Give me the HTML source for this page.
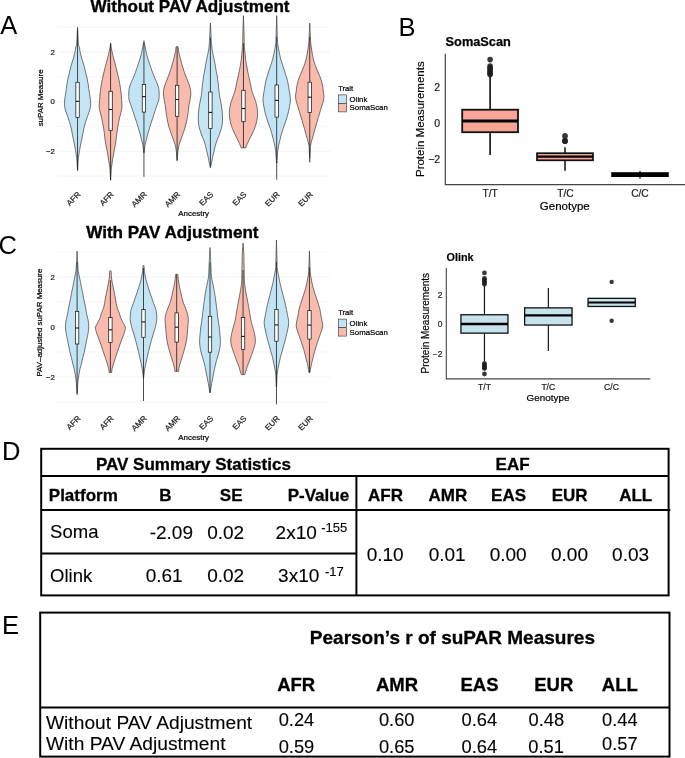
<!DOCTYPE html>
<html><head><meta charset="utf-8"><style>
html,body{margin:0;padding:0;background:#fff;}
body{width:685px;height:758px;overflow:hidden;}
svg{display:block;font-family:"Liberation Sans", sans-serif;will-change:transform;}
</style></head><body>
<svg width="685" height="758" viewBox="0 0 685 758">
<text x="0.20" y="33.90" font-size="25.50" text-anchor="start" fill="#000">A</text><line x1="57.4" y1="27.11" x2="330" y2="27.11" stroke="#EFEFEF" stroke-width="0.6"/><line x1="57.4" y1="51.94" x2="330" y2="51.94" stroke="#EBEBEB" stroke-width="0.6"/><line x1="57.4" y1="76.77" x2="330" y2="76.77" stroke="#EFEFEF" stroke-width="0.6"/><line x1="57.4" y1="101.60" x2="330" y2="101.60" stroke="#EBEBEB" stroke-width="0.6"/><line x1="57.4" y1="126.43" x2="330" y2="126.43" stroke="#EFEFEF" stroke-width="0.6"/><line x1="57.4" y1="151.26" x2="330" y2="151.26" stroke="#EBEBEB" stroke-width="0.6"/><line x1="57.4" y1="176.09" x2="330" y2="176.09" stroke="#EFEFEF" stroke-width="0.6"/><path d="M77.55,27.20 C77.70,30.05 78.17,41.10 78.45,44.30 C78.73,47.50 78.98,45.17 79.25,46.40 C79.52,47.63 79.70,49.93 80.05,51.70 C80.40,53.47 80.87,55.25 81.35,57.00 C81.83,58.75 82.42,60.45 82.95,62.20 C83.48,63.95 84.08,65.73 84.55,67.50 C85.02,69.27 85.33,71.03 85.75,72.80 C86.17,74.57 86.67,76.33 87.05,78.10 C87.43,79.87 87.77,81.65 88.05,83.40 C88.33,85.15 88.50,86.85 88.75,88.60 C89.00,90.35 89.28,92.13 89.55,93.90 C89.82,95.67 90.17,97.25 90.35,99.20 C90.53,101.15 90.82,103.60 90.65,105.60 C90.48,107.60 89.90,109.33 89.35,111.20 C88.80,113.07 88.00,114.93 87.35,116.80 C86.70,118.67 86.02,120.53 85.45,122.40 C84.88,124.27 84.38,126.12 83.95,128.00 C83.52,129.88 83.22,131.82 82.85,133.70 C82.48,135.58 82.13,137.43 81.75,139.30 C81.37,141.17 80.92,143.03 80.55,144.90 C80.18,146.77 79.87,148.63 79.55,150.50 C79.23,152.37 78.88,154.23 78.65,156.10 C78.42,157.97 78.33,159.27 78.15,161.70 C77.97,164.13 77.65,169.20 77.55,170.70 L77.55,170.70 C77.45,169.20 77.13,164.13 76.95,161.70 C76.77,159.27 76.68,157.97 76.45,156.10 C76.22,154.23 75.87,152.37 75.55,150.50 C75.23,148.63 74.92,146.77 74.55,144.90 C74.18,143.03 73.73,141.17 73.35,139.30 C72.97,137.43 72.62,135.58 72.25,133.70 C71.88,131.82 71.58,129.88 71.15,128.00 C70.72,126.12 70.22,124.27 69.65,122.40 C69.08,120.53 68.40,118.67 67.75,116.80 C67.10,114.93 66.30,113.07 65.75,111.20 C65.20,109.33 64.62,107.60 64.45,105.60 C64.28,103.60 64.57,101.15 64.75,99.20 C64.93,97.25 65.28,95.67 65.55,93.90 C65.82,92.13 66.10,90.35 66.35,88.60 C66.60,86.85 66.77,85.15 67.05,83.40 C67.33,81.65 67.67,79.87 68.05,78.10 C68.43,76.33 68.93,74.57 69.35,72.80 C69.77,71.03 70.08,69.27 70.55,67.50 C71.02,65.73 71.62,63.95 72.15,62.20 C72.68,60.45 73.27,58.75 73.75,57.00 C74.23,55.25 74.70,53.47 75.05,51.70 C75.40,49.93 75.58,47.63 75.85,46.40 C76.12,45.17 76.37,47.50 76.65,44.30 C76.93,41.10 77.40,30.05 77.55,27.20 Z" fill="#C3E4F4" stroke="#2e2e2e" stroke-width="0.65"/><line x1="77.55" y1="29.65" x2="77.55" y2="170.05" stroke="#1a1a1a" stroke-width="0.8"/><rect x="75.85" y="82.30" width="3.4" height="35.10" fill="#fff" stroke="#1a1a1a" stroke-width="0.75"/><line x1="75.85" y1="101.30" x2="79.25" y2="101.30" stroke="#111" stroke-width="1.1"/><path d="M110.60,43.20 C110.73,44.08 111.15,47.08 111.40,48.50 C111.65,49.92 111.78,50.28 112.10,51.70 C112.42,53.12 112.87,55.25 113.30,57.00 C113.73,58.75 114.23,60.45 114.70,62.20 C115.17,63.95 115.65,65.73 116.10,67.50 C116.55,69.27 116.98,71.03 117.40,72.80 C117.82,74.57 118.22,76.33 118.60,78.10 C118.98,79.87 119.38,81.65 119.70,83.40 C120.02,85.15 120.25,86.85 120.50,88.60 C120.75,90.35 121.03,92.13 121.20,93.90 C121.37,95.67 121.37,97.25 121.50,99.20 C121.63,101.15 122.03,103.60 122.00,105.60 C121.97,107.60 121.67,109.33 121.30,111.20 C120.93,113.07 120.23,114.93 119.80,116.80 C119.37,118.67 119.07,120.53 118.70,122.40 C118.33,124.27 117.92,126.12 117.60,128.00 C117.28,129.88 117.03,131.82 116.80,133.70 C116.57,135.58 116.45,137.43 116.20,139.30 C115.95,141.17 115.63,143.03 115.30,144.90 C114.97,146.77 114.55,148.63 114.20,150.50 C113.85,152.37 113.52,154.23 113.20,156.10 C112.88,157.97 112.58,159.83 112.30,161.70 C112.02,163.57 111.70,165.58 111.50,167.30 C111.30,169.02 111.25,169.85 111.10,172.00 C110.95,174.15 110.68,178.83 110.60,180.20 L110.60,180.20 C110.52,178.83 110.25,174.15 110.10,172.00 C109.95,169.85 109.90,169.02 109.70,167.30 C109.50,165.58 109.18,163.57 108.90,161.70 C108.62,159.83 108.32,157.97 108.00,156.10 C107.68,154.23 107.35,152.37 107.00,150.50 C106.65,148.63 106.23,146.77 105.90,144.90 C105.57,143.03 105.25,141.17 105.00,139.30 C104.75,137.43 104.63,135.58 104.40,133.70 C104.17,131.82 103.92,129.88 103.60,128.00 C103.28,126.12 102.87,124.27 102.50,122.40 C102.13,120.53 101.83,118.67 101.40,116.80 C100.97,114.93 100.27,113.07 99.90,111.20 C99.53,109.33 99.23,107.60 99.20,105.60 C99.17,103.60 99.57,101.15 99.70,99.20 C99.83,97.25 99.83,95.67 100.00,93.90 C100.17,92.13 100.45,90.35 100.70,88.60 C100.95,86.85 101.18,85.15 101.50,83.40 C101.82,81.65 102.22,79.87 102.60,78.10 C102.98,76.33 103.38,74.57 103.80,72.80 C104.22,71.03 104.65,69.27 105.10,67.50 C105.55,65.73 106.03,63.95 106.50,62.20 C106.97,60.45 107.47,58.75 107.90,57.00 C108.33,55.25 108.78,53.12 109.10,51.70 C109.42,50.28 109.55,49.92 109.80,48.50 C110.05,47.08 110.47,44.08 110.60,43.20 Z" fill="#F9BBAD" stroke="#2e2e2e" stroke-width="0.65"/><line x1="110.60" y1="43.20" x2="110.60" y2="180.20" stroke="#1a1a1a" stroke-width="0.8"/><rect x="108.90" y="91.30" width="3.4" height="39.20" fill="#fff" stroke="#1a1a1a" stroke-width="0.75"/><line x1="108.90" y1="109.50" x2="112.30" y2="109.50" stroke="#111" stroke-width="1.1"/><path d="M143.95,40.60 C144.13,41.57 144.70,44.55 145.05,46.40 C145.40,48.25 145.67,49.93 146.05,51.70 C146.43,53.47 146.85,55.25 147.35,57.00 C147.85,58.75 148.47,60.45 149.05,62.20 C149.63,63.95 150.25,65.73 150.85,67.50 C151.45,69.27 152.00,71.03 152.65,72.80 C153.30,74.57 154.00,76.33 154.75,78.10 C155.50,79.87 156.48,81.65 157.15,83.40 C157.82,85.15 158.42,86.85 158.75,88.60 C159.08,90.35 159.12,92.13 159.15,93.90 C159.18,95.67 159.33,97.25 158.95,99.20 C158.57,101.15 157.52,103.60 156.85,105.60 C156.18,107.60 155.57,109.33 154.95,111.20 C154.33,113.07 153.77,114.93 153.15,116.80 C152.53,118.67 151.85,120.53 151.25,122.40 C150.65,124.27 150.12,126.12 149.55,128.00 C148.98,129.88 148.37,131.82 147.85,133.70 C147.33,135.58 146.92,137.43 146.45,139.30 C145.98,141.17 145.40,143.03 145.05,144.90 C144.70,146.77 144.53,149.20 144.35,150.50 C144.17,151.80 144.02,152.33 143.95,152.70 L143.95,152.70 C143.88,152.33 143.73,151.80 143.55,150.50 C143.37,149.20 143.20,146.77 142.85,144.90 C142.50,143.03 141.92,141.17 141.45,139.30 C140.98,137.43 140.57,135.58 140.05,133.70 C139.53,131.82 138.92,129.88 138.35,128.00 C137.78,126.12 137.25,124.27 136.65,122.40 C136.05,120.53 135.37,118.67 134.75,116.80 C134.13,114.93 133.57,113.07 132.95,111.20 C132.33,109.33 131.72,107.60 131.05,105.60 C130.38,103.60 129.33,101.15 128.95,99.20 C128.57,97.25 128.72,95.67 128.75,93.90 C128.78,92.13 128.82,90.35 129.15,88.60 C129.48,86.85 130.08,85.15 130.75,83.40 C131.42,81.65 132.40,79.87 133.15,78.10 C133.90,76.33 134.60,74.57 135.25,72.80 C135.90,71.03 136.45,69.27 137.05,67.50 C137.65,65.73 138.27,63.95 138.85,62.20 C139.43,60.45 140.05,58.75 140.55,57.00 C141.05,55.25 141.47,53.47 141.85,51.70 C142.23,49.93 142.50,48.25 142.85,46.40 C143.20,44.55 143.77,41.57 143.95,40.60 Z" fill="#C3E4F4" stroke="#2e2e2e" stroke-width="0.65"/><line x1="143.95" y1="150.70" x2="143.95" y2="176.80" stroke="#4a4a4a" stroke-width="1.0"/><line x1="143.95" y1="42.85" x2="143.95" y2="152.70" stroke="#1a1a1a" stroke-width="0.8"/><rect x="142.25" y="84.40" width="3.4" height="27.70" fill="#fff" stroke="#1a1a1a" stroke-width="0.75"/><line x1="142.25" y1="96.60" x2="145.65" y2="96.60" stroke="#111" stroke-width="1.1"/><path d="M177.10,46.40 C177.30,46.58 178.03,46.62 178.30,47.50 C178.57,48.38 178.42,50.12 178.70,51.70 C178.98,53.28 179.57,55.25 180.00,57.00 C180.43,58.75 180.82,60.45 181.30,62.20 C181.78,63.95 182.37,65.73 182.90,67.50 C183.43,69.27 183.88,71.03 184.50,72.80 C185.12,74.57 185.90,76.33 186.60,78.10 C187.30,79.87 188.08,81.65 188.70,83.40 C189.32,85.15 189.95,86.85 190.30,88.60 C190.65,90.35 190.85,92.00 190.80,93.90 C190.75,95.80 190.32,98.05 190.00,100.00 C189.68,101.95 189.18,103.73 188.90,105.60 C188.62,107.47 188.53,109.33 188.30,111.20 C188.07,113.07 187.82,114.93 187.50,116.80 C187.18,118.67 186.82,120.53 186.40,122.40 C185.98,124.27 185.57,126.12 185.00,128.00 C184.43,129.88 183.67,131.82 183.00,133.70 C182.33,135.58 181.65,137.43 181.00,139.30 C180.35,141.17 179.60,143.03 179.10,144.90 C178.60,146.77 178.25,148.82 178.00,150.50 C177.75,152.18 177.75,153.32 177.60,155.00 C177.45,156.68 177.18,159.67 177.10,160.60 L177.10,160.60 C177.02,159.67 176.75,156.68 176.60,155.00 C176.45,153.32 176.45,152.18 176.20,150.50 C175.95,148.82 175.60,146.77 175.10,144.90 C174.60,143.03 173.85,141.17 173.20,139.30 C172.55,137.43 171.87,135.58 171.20,133.70 C170.53,131.82 169.77,129.88 169.20,128.00 C168.63,126.12 168.22,124.27 167.80,122.40 C167.38,120.53 167.02,118.67 166.70,116.80 C166.38,114.93 166.13,113.07 165.90,111.20 C165.67,109.33 165.58,107.47 165.30,105.60 C165.02,103.73 164.52,101.95 164.20,100.00 C163.88,98.05 163.45,95.80 163.40,93.90 C163.35,92.00 163.55,90.35 163.90,88.60 C164.25,86.85 164.88,85.15 165.50,83.40 C166.12,81.65 166.90,79.87 167.60,78.10 C168.30,76.33 169.08,74.57 169.70,72.80 C170.32,71.03 170.77,69.27 171.30,67.50 C171.83,65.73 172.42,63.95 172.90,62.20 C173.38,60.45 173.77,58.75 174.20,57.00 C174.63,55.25 175.22,53.28 175.50,51.70 C175.78,50.12 175.63,48.38 175.90,47.50 C176.17,46.62 176.90,46.58 177.10,46.40 Z" fill="#F9BBAD" stroke="#2e2e2e" stroke-width="0.65"/><line x1="177.10" y1="46.40" x2="177.10" y2="160.60" stroke="#1a1a1a" stroke-width="0.8"/><rect x="175.40" y="85.30" width="3.4" height="31.00" fill="#fff" stroke="#1a1a1a" stroke-width="0.75"/><line x1="175.40" y1="99.50" x2="178.80" y2="99.50" stroke="#111" stroke-width="1.1"/><path d="M210.40,23.10 C210.53,25.65 211.02,34.97 211.20,38.40 C211.38,41.83 211.37,41.93 211.50,43.70 C211.63,45.47 211.75,47.25 212.00,49.00 C212.25,50.75 212.65,52.45 213.00,54.20 C213.35,55.95 213.73,57.73 214.10,59.50 C214.47,61.27 214.88,63.03 215.20,64.80 C215.52,66.57 215.68,68.33 216.00,70.10 C216.32,71.87 216.80,73.65 217.10,75.40 C217.40,77.15 217.57,78.85 217.80,80.60 C218.03,82.35 218.32,84.33 218.50,85.90 C218.68,87.47 218.73,88.38 218.90,90.00 C219.07,91.62 219.22,93.73 219.50,95.60 C219.78,97.47 220.25,99.33 220.60,101.20 C220.95,103.07 221.32,104.93 221.60,106.80 C221.88,108.67 222.15,110.53 222.30,112.40 C222.45,114.27 222.50,116.12 222.50,118.00 C222.50,119.88 222.53,121.82 222.30,123.70 C222.07,125.58 221.62,127.43 221.10,129.30 C220.58,131.17 219.90,133.03 219.20,134.90 C218.50,136.77 217.57,138.63 216.90,140.50 C216.23,142.37 215.70,144.23 215.20,146.10 C214.70,147.97 214.33,149.83 213.90,151.70 C213.47,153.57 213.00,155.43 212.60,157.30 C212.20,159.17 211.87,161.22 211.50,162.90 C211.13,164.58 210.58,166.65 210.40,167.40 L210.40,167.40 C210.22,166.65 209.67,164.58 209.30,162.90 C208.93,161.22 208.60,159.17 208.20,157.30 C207.80,155.43 207.33,153.57 206.90,151.70 C206.47,149.83 206.10,147.97 205.60,146.10 C205.10,144.23 204.57,142.37 203.90,140.50 C203.23,138.63 202.30,136.77 201.60,134.90 C200.90,133.03 200.22,131.17 199.70,129.30 C199.18,127.43 198.73,125.58 198.50,123.70 C198.27,121.82 198.30,119.88 198.30,118.00 C198.30,116.12 198.35,114.27 198.50,112.40 C198.65,110.53 198.92,108.67 199.20,106.80 C199.48,104.93 199.85,103.07 200.20,101.20 C200.55,99.33 201.02,97.47 201.30,95.60 C201.58,93.73 201.73,91.62 201.90,90.00 C202.07,88.38 202.12,87.47 202.30,85.90 C202.48,84.33 202.77,82.35 203.00,80.60 C203.23,78.85 203.40,77.15 203.70,75.40 C204.00,73.65 204.48,71.87 204.80,70.10 C205.12,68.33 205.28,66.57 205.60,64.80 C205.92,63.03 206.33,61.27 206.70,59.50 C207.07,57.73 207.45,55.95 207.80,54.20 C208.15,52.45 208.55,50.75 208.80,49.00 C209.05,47.25 209.17,45.47 209.30,43.70 C209.43,41.93 209.42,41.83 209.60,38.40 C209.78,34.97 210.27,25.65 210.40,23.10 Z" fill="#C3E4F4" stroke="#2e2e2e" stroke-width="0.65"/><line x1="210.40" y1="37.40" x2="210.40" y2="167.40" stroke="#1a1a1a" stroke-width="0.8"/><rect x="208.70" y="92.00" width="3.4" height="36.40" fill="#fff" stroke="#1a1a1a" stroke-width="0.75"/><line x1="208.70" y1="112.40" x2="212.10" y2="112.40" stroke="#111" stroke-width="1.1"/><path d="M243.45,15.70 C243.55,18.60 243.92,28.43 244.05,33.10 C244.18,37.77 244.15,41.05 244.25,43.70 C244.35,46.35 244.50,47.25 244.65,49.00 C244.80,50.75 244.98,52.45 245.15,54.20 C245.32,55.95 245.43,57.73 245.65,59.50 C245.87,61.27 246.15,63.03 246.45,64.80 C246.75,66.57 247.10,68.33 247.45,70.10 C247.80,71.87 248.17,73.65 248.55,75.40 C248.93,77.15 249.37,78.85 249.75,80.60 C250.13,82.35 250.53,84.33 250.85,85.90 C251.17,87.47 251.20,88.38 251.65,90.00 C252.10,91.62 252.90,93.73 253.55,95.60 C254.20,97.47 254.98,99.33 255.55,101.20 C256.12,103.07 256.62,104.93 256.95,106.80 C257.28,108.67 257.50,110.53 257.55,112.40 C257.60,114.27 257.48,116.12 257.25,118.00 C257.02,119.88 256.65,121.82 256.15,123.70 C255.65,125.58 255.00,127.43 254.25,129.30 C253.50,131.17 252.55,133.03 251.65,134.90 C250.75,136.77 249.73,138.63 248.85,140.50 C247.97,142.37 246.83,144.88 246.35,146.10 C245.87,147.32 246.02,147.52 245.95,147.80 L240.95,147.80 C240.88,147.52 241.03,147.32 240.55,146.10 C240.07,144.88 238.93,142.37 238.05,140.50 C237.17,138.63 236.15,136.77 235.25,134.90 C234.35,133.03 233.40,131.17 232.65,129.30 C231.90,127.43 231.25,125.58 230.75,123.70 C230.25,121.82 229.88,119.88 229.65,118.00 C229.42,116.12 229.30,114.27 229.35,112.40 C229.40,110.53 229.62,108.67 229.95,106.80 C230.28,104.93 230.78,103.07 231.35,101.20 C231.92,99.33 232.70,97.47 233.35,95.60 C234.00,93.73 234.80,91.62 235.25,90.00 C235.70,88.38 235.73,87.47 236.05,85.90 C236.37,84.33 236.77,82.35 237.15,80.60 C237.53,78.85 237.97,77.15 238.35,75.40 C238.73,73.65 239.10,71.87 239.45,70.10 C239.80,68.33 240.15,66.57 240.45,64.80 C240.75,63.03 241.03,61.27 241.25,59.50 C241.47,57.73 241.58,55.95 241.75,54.20 C241.92,52.45 242.10,50.75 242.25,49.00 C242.40,47.25 242.55,46.35 242.65,43.70 C242.75,41.05 242.72,37.77 242.85,33.10 C242.98,28.43 243.35,18.60 243.45,15.70 Z" fill="#F9BBAD" stroke="#2e2e2e" stroke-width="0.65"/><line x1="243.45" y1="43.20" x2="243.45" y2="147.80" stroke="#1a1a1a" stroke-width="0.8"/><rect x="241.75" y="90.30" width="3.4" height="31.40" fill="#fff" stroke="#1a1a1a" stroke-width="0.75"/><line x1="241.75" y1="108.50" x2="245.15" y2="108.50" stroke="#111" stroke-width="1.1"/><path d="M276.70,15.70 C276.82,19.48 277.23,33.73 277.40,38.40 C277.57,43.07 277.52,41.93 277.70,43.70 C277.88,45.47 278.18,47.25 278.50,49.00 C278.82,50.75 279.22,52.45 279.60,54.20 C279.98,55.95 280.32,57.73 280.80,59.50 C281.28,61.27 281.92,63.03 282.50,64.80 C283.08,66.57 283.73,68.33 284.30,70.10 C284.87,71.87 285.37,73.65 285.90,75.40 C286.43,77.15 287.07,78.85 287.50,80.60 C287.93,82.35 288.20,84.13 288.50,85.90 C288.80,87.67 289.05,89.68 289.30,91.20 C289.55,92.72 289.82,93.43 290.00,95.00 C290.18,96.57 290.47,98.73 290.40,100.60 C290.33,102.47 289.92,104.33 289.60,106.20 C289.28,108.07 288.93,109.93 288.50,111.80 C288.07,113.67 287.57,115.53 287.00,117.40 C286.43,119.27 285.75,121.12 285.10,123.00 C284.45,124.88 283.72,126.82 283.10,128.70 C282.48,130.58 281.92,132.43 281.40,134.30 C280.88,136.17 280.47,138.03 280.00,139.90 C279.53,141.77 278.98,143.63 278.60,145.50 C278.22,147.37 277.92,149.18 277.70,151.10 C277.48,153.02 277.47,155.02 277.30,157.00 C277.13,158.98 276.80,162.00 276.70,163.00 L276.70,163.00 C276.60,162.00 276.27,158.98 276.10,157.00 C275.93,155.02 275.92,153.02 275.70,151.10 C275.48,149.18 275.18,147.37 274.80,145.50 C274.42,143.63 273.87,141.77 273.40,139.90 C272.93,138.03 272.52,136.17 272.00,134.30 C271.48,132.43 270.92,130.58 270.30,128.70 C269.68,126.82 268.95,124.88 268.30,123.00 C267.65,121.12 266.97,119.27 266.40,117.40 C265.83,115.53 265.33,113.67 264.90,111.80 C264.47,109.93 264.12,108.07 263.80,106.20 C263.48,104.33 263.07,102.47 263.00,100.60 C262.93,98.73 263.22,96.57 263.40,95.00 C263.58,93.43 263.85,92.72 264.10,91.20 C264.35,89.68 264.60,87.67 264.90,85.90 C265.20,84.13 265.47,82.35 265.90,80.60 C266.33,78.85 266.97,77.15 267.50,75.40 C268.03,73.65 268.53,71.87 269.10,70.10 C269.67,68.33 270.32,66.57 270.90,64.80 C271.48,63.03 272.12,61.27 272.60,59.50 C273.08,57.73 273.42,55.95 273.80,54.20 C274.18,52.45 274.58,50.75 274.90,49.00 C275.22,47.25 275.52,45.47 275.70,43.70 C275.88,41.93 275.83,43.07 276.00,38.40 C276.17,33.73 276.58,19.48 276.70,15.70 Z" fill="#C3E4F4" stroke="#2e2e2e" stroke-width="0.65"/><line x1="276.70" y1="161.00" x2="276.70" y2="179.70" stroke="#4a4a4a" stroke-width="1.0"/><line x1="276.70" y1="36.85" x2="276.70" y2="163.00" stroke="#1a1a1a" stroke-width="0.8"/><rect x="275.00" y="85.00" width="3.4" height="32.10" fill="#fff" stroke="#1a1a1a" stroke-width="0.75"/><line x1="275.00" y1="100.40" x2="278.40" y2="100.40" stroke="#111" stroke-width="1.1"/><path d="M309.75,23.10 C309.87,25.65 310.27,34.97 310.45,38.40 C310.63,41.83 310.67,41.93 310.85,43.70 C311.03,45.47 311.30,47.25 311.55,49.00 C311.80,50.75 312.03,52.45 312.35,54.20 C312.67,55.95 313.00,57.73 313.45,59.50 C313.90,61.27 314.43,63.03 315.05,64.80 C315.67,66.57 316.42,68.33 317.15,70.10 C317.88,71.87 318.75,73.65 319.45,75.40 C320.15,77.15 320.82,78.85 321.35,80.60 C321.88,82.35 322.33,84.13 322.65,85.90 C322.97,87.67 323.03,89.68 323.25,91.20 C323.47,92.72 323.92,93.43 323.95,95.00 C323.98,96.57 323.82,98.73 323.45,100.60 C323.08,102.47 322.32,104.33 321.75,106.20 C321.18,108.07 320.62,109.93 320.05,111.80 C319.48,113.67 318.90,115.53 318.35,117.40 C317.80,119.27 317.30,121.12 316.75,123.00 C316.20,124.88 315.58,126.82 315.05,128.70 C314.52,130.58 314.07,132.43 313.55,134.30 C313.03,136.17 312.45,138.03 311.95,139.90 C311.45,141.77 310.83,143.82 310.55,145.50 C310.27,147.18 310.38,147.20 310.25,150.00 C310.12,152.80 309.83,160.25 309.75,162.30 L309.75,162.30 C309.67,160.25 309.38,152.80 309.25,150.00 C309.12,147.20 309.23,147.18 308.95,145.50 C308.67,143.82 308.05,141.77 307.55,139.90 C307.05,138.03 306.47,136.17 305.95,134.30 C305.43,132.43 304.98,130.58 304.45,128.70 C303.92,126.82 303.30,124.88 302.75,123.00 C302.20,121.12 301.70,119.27 301.15,117.40 C300.60,115.53 300.02,113.67 299.45,111.80 C298.88,109.93 298.32,108.07 297.75,106.20 C297.18,104.33 296.42,102.47 296.05,100.60 C295.68,98.73 295.52,96.57 295.55,95.00 C295.58,93.43 296.03,92.72 296.25,91.20 C296.47,89.68 296.53,87.67 296.85,85.90 C297.17,84.13 297.62,82.35 298.15,80.60 C298.68,78.85 299.35,77.15 300.05,75.40 C300.75,73.65 301.62,71.87 302.35,70.10 C303.08,68.33 303.83,66.57 304.45,64.80 C305.07,63.03 305.60,61.27 306.05,59.50 C306.50,57.73 306.83,55.95 307.15,54.20 C307.47,52.45 307.70,50.75 307.95,49.00 C308.20,47.25 308.47,45.47 308.65,43.70 C308.83,41.93 308.87,41.83 309.05,38.40 C309.23,34.97 309.63,25.65 309.75,23.10 Z" fill="#F9BBAD" stroke="#2e2e2e" stroke-width="0.65"/><line x1="309.75" y1="36.90" x2="309.75" y2="157.70" stroke="#1a1a1a" stroke-width="0.8"/><rect x="308.05" y="82.20" width="3.4" height="30.20" fill="#fff" stroke="#1a1a1a" stroke-width="0.75"/><line x1="308.05" y1="97.20" x2="311.45" y2="97.20" stroke="#111" stroke-width="1.1"/><text x="54.80" y="54.74" font-size="7.80" text-anchor="end" fill="#222" stroke="#222" stroke-width="0.22">2</text><text x="54.80" y="104.40" font-size="7.80" text-anchor="end" fill="#222" stroke="#222" stroke-width="0.22">0</text><text x="54.80" y="154.06" font-size="7.80" text-anchor="end" fill="#222" stroke="#222" stroke-width="0.22">&#8722;2</text><text transform="translate(42.90,97.90) rotate(-90)" font-size="7.9" text-anchor="middle" fill="#000" stroke="#000" stroke-width="0.22">suPAR Measure</text><text transform="translate(81.00,195.00) rotate(-45)" font-size="8" text-anchor="end" fill="#222" stroke="#222" stroke-width="0.22">AFR</text><text transform="translate(114.20,195.00) rotate(-45)" font-size="8" text-anchor="end" fill="#222" stroke="#222" stroke-width="0.22">AFR</text><text transform="translate(147.40,195.00) rotate(-45)" font-size="8" text-anchor="end" fill="#222" stroke="#222" stroke-width="0.22">AMR</text><text transform="translate(180.60,195.00) rotate(-45)" font-size="8" text-anchor="end" fill="#222" stroke="#222" stroke-width="0.22">AMR</text><text transform="translate(213.80,195.00) rotate(-45)" font-size="8" text-anchor="end" fill="#222" stroke="#222" stroke-width="0.22">EAS</text><text transform="translate(247.00,195.00) rotate(-45)" font-size="8" text-anchor="end" fill="#222" stroke="#222" stroke-width="0.22">EAS</text><text transform="translate(280.20,195.00) rotate(-45)" font-size="8" text-anchor="end" fill="#222" stroke="#222" stroke-width="0.22">EUR</text><text transform="translate(313.40,195.00) rotate(-45)" font-size="8" text-anchor="end" fill="#222" stroke="#222" stroke-width="0.22">EUR</text><text x="193.70" y="215.60" font-size="7.90" text-anchor="middle" fill="#000" stroke="#000" stroke-width="0.22">Ancestry</text><text x="90.60" y="11.70" font-size="17.10" text-anchor="start" font-weight="bold" fill="#000" stroke="#000" stroke-width="0.35">Without PAV Adjustment</text><text x="338.20" y="90.90" font-size="7.60" text-anchor="start" fill="#000" stroke="#000" stroke-width="0.22">Trait</text><rect x="338.4" y="94.90" width="8.2" height="8.4" fill="#C3E4F4" stroke="#333" stroke-width="0.6"/><rect x="338.4" y="103.50" width="8.2" height="8.4" fill="#F9BBAD" stroke="#333" stroke-width="0.6"/><text x="349.60" y="101.90" font-size="7.80" text-anchor="start" fill="#000" stroke="#000" stroke-width="0.22">Olink</text><text x="349.60" y="110.40" font-size="7.80" text-anchor="start" fill="#000" stroke="#000" stroke-width="0.22">SomaScan</text><text x="398.60" y="35.60" font-size="25.50" text-anchor="start" fill="#000">B</text><text x="445.60" y="45.80" font-size="12.75" text-anchor="start" font-weight="bold" fill="#000" stroke="#000" stroke-width="0.25">SomaScan</text><line x1="490.10" y1="75.70" x2="490.10" y2="155.00" stroke="#111" stroke-width="1.62"/><rect x="462.20" y="109.70" width="55.80" height="22.50" fill="#F8A597" stroke="#111" stroke-width="1.80"/><line x1="462.20" y1="121.10" x2="518.00" y2="121.10" stroke="#000" stroke-width="3.00"/><circle cx="490.10" cy="59.60" r="2.80" fill="#1e1e1e" fill-opacity="0.88"/><circle cx="490.10" cy="66.00" r="2.80" fill="#1e1e1e" fill-opacity="0.88"/><circle cx="490.10" cy="67.50" r="2.80" fill="#1e1e1e" fill-opacity="0.88"/><circle cx="490.10" cy="69.00" r="2.80" fill="#1e1e1e" fill-opacity="0.88"/><circle cx="490.10" cy="70.50" r="2.80" fill="#1e1e1e" fill-opacity="0.88"/><circle cx="490.10" cy="72.00" r="2.80" fill="#1e1e1e" fill-opacity="0.88"/><circle cx="490.10" cy="73.50" r="2.80" fill="#1e1e1e" fill-opacity="0.88"/><circle cx="490.10" cy="74.60" r="2.80" fill="#1e1e1e" fill-opacity="0.88"/><line x1="565.00" y1="147.20" x2="565.00" y2="170.70" stroke="#111" stroke-width="1.53"/><rect x="537.00" y="153.20" width="56.00" height="7.10" fill="#F8A597" stroke="#111" stroke-width="1.70"/><line x1="537.00" y1="156.60" x2="593.00" y2="156.60" stroke="#000" stroke-width="2.40"/><circle cx="565.00" cy="135.90" r="2.90" fill="#1e1e1e" fill-opacity="0.88"/><circle cx="565.00" cy="141.00" r="2.90" fill="#1e1e1e" fill-opacity="0.88"/><circle cx="565.00" cy="141.00" r="2.90" fill="#1e1e1e" fill-opacity="0.88"/><line x1="640" y1="171" x2="640" y2="178.7" stroke="#111" stroke-width="1.2"/><rect x="611.2" y="172.2" width="57.6" height="4.8" fill="#000"/><path d="M445.3,53.7 L445.3,184.6 L685,184.6" fill="none" stroke="#444" stroke-width="1.2"/><text x="440.20" y="90.60" font-size="10.50" text-anchor="end" fill="#222" stroke="#222" stroke-width="0.22">2</text><text x="440.20" y="126.60" font-size="10.50" text-anchor="end" fill="#222" stroke="#222" stroke-width="0.22">0</text><text x="440.20" y="162.60" font-size="10.50" text-anchor="end" fill="#222" stroke="#222" stroke-width="0.22">&#8722;2</text><text x="490.20" y="197.20" font-size="10.20" text-anchor="middle" fill="#222" stroke="#222" stroke-width="0.22">T/T</text><text x="565.40" y="197.20" font-size="10.20" text-anchor="middle" fill="#222" stroke="#222" stroke-width="0.22">T/C</text><text x="639.90" y="197.20" font-size="10.20" text-anchor="middle" fill="#222" stroke="#222" stroke-width="0.22">C/C</text><text x="564.80" y="210.40" font-size="11.50" text-anchor="middle" fill="#000" stroke="#000" stroke-width="0.22">Genotype</text><text transform="translate(424,119.2) rotate(-90)" font-size="11.5" text-anchor="middle" stroke="#000" stroke-width="0.15">Protein Measurements</text><text x="-1.50" y="254.20" font-size="25.50" text-anchor="start" fill="#000">C</text><line x1="57.4" y1="252.15" x2="330" y2="252.15" stroke="#EFEFEF" stroke-width="0.6"/><line x1="57.4" y1="277.10" x2="330" y2="277.10" stroke="#EBEBEB" stroke-width="0.6"/><line x1="57.4" y1="302.05" x2="330" y2="302.05" stroke="#EFEFEF" stroke-width="0.6"/><line x1="57.4" y1="327.00" x2="330" y2="327.00" stroke="#EBEBEB" stroke-width="0.6"/><line x1="57.4" y1="351.95" x2="330" y2="351.95" stroke="#EFEFEF" stroke-width="0.6"/><line x1="57.4" y1="376.90" x2="330" y2="376.90" stroke="#EBEBEB" stroke-width="0.6"/><line x1="57.4" y1="401.85" x2="330" y2="401.85" stroke="#EFEFEF" stroke-width="0.6"/><path d="M77.10,251.10 C77.23,253.65 77.68,262.97 77.90,266.40 C78.12,269.83 78.15,269.93 78.40,271.70 C78.65,273.47 79.05,275.25 79.40,277.00 C79.75,278.75 80.15,280.45 80.50,282.20 C80.85,283.95 81.15,285.73 81.50,287.50 C81.85,289.27 82.25,291.03 82.60,292.80 C82.95,294.57 83.25,296.33 83.60,298.10 C83.95,299.87 84.33,301.65 84.70,303.40 C85.07,305.15 85.48,306.85 85.80,308.60 C86.12,310.35 86.27,312.23 86.60,313.90 C86.93,315.57 87.47,316.98 87.80,318.60 C88.13,320.22 88.47,321.83 88.60,323.60 C88.73,325.37 88.73,327.33 88.60,329.20 C88.47,331.07 88.13,332.93 87.80,334.80 C87.47,336.67 86.98,338.53 86.60,340.40 C86.22,342.27 85.87,344.12 85.50,346.00 C85.13,347.88 84.83,349.82 84.40,351.70 C83.97,353.58 83.37,355.43 82.90,357.30 C82.43,359.17 82.07,361.03 81.60,362.90 C81.13,364.77 80.53,366.63 80.10,368.50 C79.67,370.37 79.32,372.23 79.00,374.10 C78.68,375.97 78.42,377.83 78.20,379.70 C77.98,381.57 77.88,382.78 77.70,385.30 C77.52,387.82 77.20,393.22 77.10,394.80 L77.10,394.80 C77.00,393.22 76.68,387.82 76.50,385.30 C76.32,382.78 76.22,381.57 76.00,379.70 C75.78,377.83 75.52,375.97 75.20,374.10 C74.88,372.23 74.53,370.37 74.10,368.50 C73.67,366.63 73.07,364.77 72.60,362.90 C72.13,361.03 71.77,359.17 71.30,357.30 C70.83,355.43 70.23,353.58 69.80,351.70 C69.37,349.82 69.07,347.88 68.70,346.00 C68.33,344.12 67.98,342.27 67.60,340.40 C67.22,338.53 66.73,336.67 66.40,334.80 C66.07,332.93 65.73,331.07 65.60,329.20 C65.47,327.33 65.47,325.37 65.60,323.60 C65.73,321.83 66.07,320.22 66.40,318.60 C66.73,316.98 67.27,315.57 67.60,313.90 C67.93,312.23 68.08,310.35 68.40,308.60 C68.72,306.85 69.13,305.15 69.50,303.40 C69.87,301.65 70.25,299.87 70.60,298.10 C70.95,296.33 71.25,294.57 71.60,292.80 C71.95,291.03 72.35,289.27 72.70,287.50 C73.05,285.73 73.35,283.95 73.70,282.20 C74.05,280.45 74.45,278.75 74.80,277.00 C75.15,275.25 75.55,273.47 75.80,271.70 C76.05,269.93 76.08,269.83 76.30,266.40 C76.52,262.97 76.97,253.65 77.10,251.10 Z" fill="#C3E4F4" stroke="#2e2e2e" stroke-width="0.65"/><line x1="77.10" y1="262.25" x2="77.10" y2="393.05" stroke="#1a1a1a" stroke-width="0.8"/><rect x="75.40" y="311.30" width="3.4" height="32.70" fill="#fff" stroke="#1a1a1a" stroke-width="0.75"/><line x1="75.40" y1="328.00" x2="78.80" y2="328.00" stroke="#111" stroke-width="1.1"/><path d="M110.40,270.60 C110.53,270.75 111.03,270.43 111.20,271.50 C111.37,272.57 111.23,275.22 111.40,277.00 C111.57,278.78 111.88,280.45 112.20,282.20 C112.52,283.95 112.95,285.73 113.30,287.50 C113.65,289.27 113.95,291.03 114.30,292.80 C114.65,294.57 115.08,296.33 115.40,298.10 C115.72,299.87 115.85,301.65 116.20,303.40 C116.55,305.15 116.93,306.85 117.50,308.60 C118.07,310.35 119.02,312.23 119.60,313.90 C120.18,315.57 120.33,316.98 121.00,318.60 C121.67,320.22 122.88,322.20 123.60,323.60 C124.32,325.00 125.02,326.07 125.30,327.00 C125.58,327.93 125.58,327.90 125.30,329.20 C125.02,330.50 124.25,332.93 123.60,334.80 C122.95,336.67 122.10,338.53 121.40,340.40 C120.70,342.27 120.05,344.12 119.40,346.00 C118.75,347.88 118.13,349.82 117.50,351.70 C116.87,353.58 116.22,355.43 115.60,357.30 C114.98,359.17 114.37,361.03 113.80,362.90 C113.23,364.77 112.55,366.92 112.20,368.50 C111.85,370.08 111.78,371.75 111.70,372.40 L109.10,372.40 C109.02,371.75 108.95,370.08 108.60,368.50 C108.25,366.92 107.57,364.77 107.00,362.90 C106.43,361.03 105.82,359.17 105.20,357.30 C104.58,355.43 103.93,353.58 103.30,351.70 C102.67,349.82 102.05,347.88 101.40,346.00 C100.75,344.12 100.10,342.27 99.40,340.40 C98.70,338.53 97.85,336.67 97.20,334.80 C96.55,332.93 95.78,330.50 95.50,329.20 C95.22,327.90 95.22,327.93 95.50,327.00 C95.78,326.07 96.48,325.00 97.20,323.60 C97.92,322.20 99.13,320.22 99.80,318.60 C100.47,316.98 100.62,315.57 101.20,313.90 C101.78,312.23 102.73,310.35 103.30,308.60 C103.87,306.85 104.25,305.15 104.60,303.40 C104.95,301.65 105.08,299.87 105.40,298.10 C105.72,296.33 106.15,294.57 106.50,292.80 C106.85,291.03 107.15,289.27 107.50,287.50 C107.85,285.73 108.28,283.95 108.60,282.20 C108.92,280.45 109.23,278.78 109.40,277.00 C109.57,275.22 109.43,272.57 109.60,271.50 C109.77,270.43 110.27,270.75 110.40,270.60 Z" fill="#F9BBAD" stroke="#2e2e2e" stroke-width="0.65"/><line x1="110.40" y1="280.25" x2="110.40" y2="372.40" stroke="#1a1a1a" stroke-width="0.8"/><rect x="108.70" y="317.60" width="3.4" height="24.90" fill="#fff" stroke="#1a1a1a" stroke-width="0.75"/><line x1="108.70" y1="329.80" x2="112.10" y2="329.80" stroke="#111" stroke-width="1.1"/><path d="M143.50,265.10 C143.60,265.33 143.93,265.40 144.10,266.50 C144.27,267.60 144.30,269.95 144.50,271.70 C144.70,273.45 144.95,275.25 145.30,277.00 C145.65,278.75 146.10,280.45 146.60,282.20 C147.10,283.95 147.73,285.73 148.30,287.50 C148.87,289.27 149.42,291.03 150.00,292.80 C150.58,294.57 151.18,296.33 151.80,298.10 C152.42,299.87 153.07,301.65 153.70,303.40 C154.33,305.15 155.12,306.85 155.60,308.60 C156.08,310.35 156.40,312.23 156.60,313.90 C156.80,315.57 156.87,316.98 156.80,318.60 C156.73,320.22 156.55,321.83 156.20,323.60 C155.85,325.37 155.23,327.33 154.70,329.20 C154.17,331.07 153.55,332.93 153.00,334.80 C152.45,336.67 151.92,338.53 151.40,340.40 C150.88,342.27 150.38,344.12 149.90,346.00 C149.42,347.88 148.95,349.82 148.50,351.70 C148.05,353.58 147.62,355.43 147.20,357.30 C146.78,359.17 146.40,361.03 146.00,362.90 C145.60,364.77 145.12,366.63 144.80,368.50 C144.48,370.37 144.32,372.42 144.10,374.10 C143.88,375.78 143.60,377.85 143.50,378.60 L143.50,378.60 C143.40,377.85 143.12,375.78 142.90,374.10 C142.68,372.42 142.52,370.37 142.20,368.50 C141.88,366.63 141.40,364.77 141.00,362.90 C140.60,361.03 140.22,359.17 139.80,357.30 C139.38,355.43 138.95,353.58 138.50,351.70 C138.05,349.82 137.58,347.88 137.10,346.00 C136.62,344.12 136.12,342.27 135.60,340.40 C135.08,338.53 134.55,336.67 134.00,334.80 C133.45,332.93 132.83,331.07 132.30,329.20 C131.77,327.33 131.15,325.37 130.80,323.60 C130.45,321.83 130.27,320.22 130.20,318.60 C130.13,316.98 130.20,315.57 130.40,313.90 C130.60,312.23 130.92,310.35 131.40,308.60 C131.88,306.85 132.67,305.15 133.30,303.40 C133.93,301.65 134.58,299.87 135.20,298.10 C135.82,296.33 136.42,294.57 137.00,292.80 C137.58,291.03 138.13,289.27 138.70,287.50 C139.27,285.73 139.90,283.95 140.40,282.20 C140.90,280.45 141.35,278.75 141.70,277.00 C142.05,275.25 142.30,273.45 142.50,271.70 C142.70,269.95 142.73,267.60 142.90,266.50 C143.07,265.40 143.40,265.33 143.50,265.10 Z" fill="#C3E4F4" stroke="#2e2e2e" stroke-width="0.65"/><line x1="143.50" y1="376.60" x2="143.50" y2="401.00" stroke="#4a4a4a" stroke-width="1.0"/><line x1="143.50" y1="267.80" x2="143.50" y2="378.60" stroke="#1a1a1a" stroke-width="0.8"/><rect x="141.80" y="309.50" width="3.4" height="27.80" fill="#fff" stroke="#1a1a1a" stroke-width="0.75"/><line x1="141.80" y1="321.90" x2="145.20" y2="321.90" stroke="#111" stroke-width="1.1"/><path d="M176.70,274.30 C176.90,274.33 177.68,274.05 177.90,274.50 C178.12,274.95 177.88,275.72 178.00,277.00 C178.12,278.28 178.32,280.45 178.60,282.20 C178.88,283.95 179.32,285.73 179.70,287.50 C180.08,289.27 180.52,291.03 180.90,292.80 C181.28,294.57 181.55,296.33 182.00,298.10 C182.45,299.87 182.98,301.65 183.60,303.40 C184.22,305.15 185.05,306.85 185.70,308.60 C186.35,310.35 187.07,312.23 187.50,313.90 C187.93,315.57 188.20,316.98 188.30,318.60 C188.40,320.22 188.22,321.83 188.10,323.60 C187.98,325.37 187.75,327.33 187.60,329.20 C187.45,331.07 187.38,332.93 187.20,334.80 C187.02,336.67 186.82,338.53 186.50,340.40 C186.18,342.27 185.77,344.12 185.30,346.00 C184.83,347.88 184.25,349.82 183.70,351.70 C183.15,353.58 182.57,355.43 182.00,357.30 C181.43,359.17 180.83,361.03 180.30,362.90 C179.77,364.77 179.07,367.10 178.80,368.50 C178.53,369.90 178.72,370.83 178.70,371.30 L174.70,371.30 C174.68,370.83 174.87,369.90 174.60,368.50 C174.33,367.10 173.63,364.77 173.10,362.90 C172.57,361.03 171.97,359.17 171.40,357.30 C170.83,355.43 170.25,353.58 169.70,351.70 C169.15,349.82 168.57,347.88 168.10,346.00 C167.63,344.12 167.22,342.27 166.90,340.40 C166.58,338.53 166.38,336.67 166.20,334.80 C166.02,332.93 165.95,331.07 165.80,329.20 C165.65,327.33 165.42,325.37 165.30,323.60 C165.18,321.83 165.00,320.22 165.10,318.60 C165.20,316.98 165.47,315.57 165.90,313.90 C166.33,312.23 167.05,310.35 167.70,308.60 C168.35,306.85 169.18,305.15 169.80,303.40 C170.42,301.65 170.95,299.87 171.40,298.10 C171.85,296.33 172.12,294.57 172.50,292.80 C172.88,291.03 173.32,289.27 173.70,287.50 C174.08,285.73 174.52,283.95 174.80,282.20 C175.08,280.45 175.28,278.28 175.40,277.00 C175.52,275.72 175.28,274.95 175.50,274.50 C175.72,274.05 176.50,274.33 176.70,274.30 Z" fill="#F9BBAD" stroke="#2e2e2e" stroke-width="0.65"/><line x1="176.70" y1="274.30" x2="176.70" y2="371.30" stroke="#1a1a1a" stroke-width="0.8"/><rect x="175.00" y="312.90" width="3.4" height="29.20" fill="#fff" stroke="#1a1a1a" stroke-width="0.75"/><line x1="175.00" y1="327.20" x2="178.40" y2="327.20" stroke="#111" stroke-width="1.1"/><path d="M210.00,247.50 C210.13,249.97 210.58,257.72 210.80,262.30 C211.02,266.88 211.08,272.02 211.30,275.00 C211.52,277.98 211.78,278.45 212.10,280.20 C212.42,281.95 212.85,283.73 213.20,285.50 C213.55,287.27 213.88,289.03 214.20,290.80 C214.52,292.57 214.83,294.33 215.10,296.10 C215.37,297.87 215.57,299.65 215.80,301.40 C216.03,303.15 216.27,304.85 216.50,306.60 C216.73,308.35 217.02,310.25 217.20,311.90 C217.38,313.55 217.40,314.88 217.60,316.50 C217.80,318.12 218.13,319.82 218.40,321.60 C218.67,323.38 218.97,325.33 219.20,327.20 C219.43,329.07 219.62,330.93 219.80,332.80 C219.98,334.67 220.22,336.53 220.30,338.40 C220.38,340.27 220.43,342.12 220.30,344.00 C220.17,345.88 219.87,347.82 219.50,349.70 C219.13,351.58 218.62,353.43 218.10,355.30 C217.58,357.17 216.92,359.03 216.40,360.90 C215.88,362.77 215.42,364.63 215.00,366.50 C214.58,368.37 214.27,370.23 213.90,372.10 C213.53,373.97 213.17,375.83 212.80,377.70 C212.43,379.57 212.03,381.43 211.70,383.30 C211.37,385.17 211.08,387.32 210.80,388.90 C210.52,390.48 210.13,392.15 210.00,392.80 L210.00,392.80 C209.87,392.15 209.48,390.48 209.20,388.90 C208.92,387.32 208.63,385.17 208.30,383.30 C207.97,381.43 207.57,379.57 207.20,377.70 C206.83,375.83 206.47,373.97 206.10,372.10 C205.73,370.23 205.42,368.37 205.00,366.50 C204.58,364.63 204.12,362.77 203.60,360.90 C203.08,359.03 202.42,357.17 201.90,355.30 C201.38,353.43 200.87,351.58 200.50,349.70 C200.13,347.82 199.83,345.88 199.70,344.00 C199.57,342.12 199.62,340.27 199.70,338.40 C199.78,336.53 200.02,334.67 200.20,332.80 C200.38,330.93 200.57,329.07 200.80,327.20 C201.03,325.33 201.33,323.38 201.60,321.60 C201.87,319.82 202.20,318.12 202.40,316.50 C202.60,314.88 202.62,313.55 202.80,311.90 C202.98,310.25 203.27,308.35 203.50,306.60 C203.73,304.85 203.97,303.15 204.20,301.40 C204.43,299.65 204.63,297.87 204.90,296.10 C205.17,294.33 205.48,292.57 205.80,290.80 C206.12,289.03 206.45,287.27 206.80,285.50 C207.15,283.73 207.58,281.95 207.90,280.20 C208.22,278.45 208.48,277.98 208.70,275.00 C208.92,272.02 208.98,266.88 209.20,262.30 C209.42,257.72 209.87,249.97 210.00,247.50 Z" fill="#C3E4F4" stroke="#2e2e2e" stroke-width="0.65"/><line x1="210.00" y1="262.45" x2="210.00" y2="392.80" stroke="#1a1a1a" stroke-width="0.8"/><rect x="208.30" y="316.30" width="3.4" height="35.90" fill="#fff" stroke="#1a1a1a" stroke-width="0.75"/><line x1="208.30" y1="337.00" x2="211.70" y2="337.00" stroke="#111" stroke-width="1.1"/><path d="M243.05,243.10 C243.18,244.88 243.70,251.13 243.85,253.80 C244.00,256.47 243.90,256.45 243.95,259.10 C244.00,261.75 244.08,266.18 244.15,269.70 C244.22,273.22 244.23,277.57 244.35,280.20 C244.47,282.83 244.63,283.73 244.85,285.50 C245.07,287.27 245.32,288.83 245.65,290.80 C245.98,292.77 246.42,295.02 246.85,297.30 C247.28,299.58 247.80,302.08 248.25,304.50 C248.70,306.92 249.18,309.62 249.55,311.80 C249.92,313.98 250.12,315.78 250.45,317.60 C250.78,319.42 251.03,320.65 251.55,322.70 C252.07,324.75 252.97,327.60 253.55,329.90 C254.13,332.20 254.75,334.68 255.05,336.50 C255.35,338.32 255.35,339.55 255.35,340.80 C255.35,342.05 255.37,342.52 255.05,344.00 C254.73,345.48 254.05,347.82 253.45,349.70 C252.85,351.58 252.12,353.43 251.45,355.30 C250.78,357.17 250.15,359.03 249.45,360.90 C248.75,362.77 247.88,364.63 247.25,366.50 C246.62,368.37 246.07,370.75 245.65,372.10 C245.23,373.45 244.90,374.18 244.75,374.60 L241.35,374.60 C241.20,374.18 240.87,373.45 240.45,372.10 C240.03,370.75 239.48,368.37 238.85,366.50 C238.22,364.63 237.35,362.77 236.65,360.90 C235.95,359.03 235.32,357.17 234.65,355.30 C233.98,353.43 233.25,351.58 232.65,349.70 C232.05,347.82 231.37,345.48 231.05,344.00 C230.73,342.52 230.75,342.05 230.75,340.80 C230.75,339.55 230.75,338.32 231.05,336.50 C231.35,334.68 231.97,332.20 232.55,329.90 C233.13,327.60 234.03,324.75 234.55,322.70 C235.07,320.65 235.32,319.42 235.65,317.60 C235.98,315.78 236.18,313.98 236.55,311.80 C236.92,309.62 237.40,306.92 237.85,304.50 C238.30,302.08 238.82,299.58 239.25,297.30 C239.68,295.02 240.12,292.77 240.45,290.80 C240.78,288.83 241.03,287.27 241.25,285.50 C241.47,283.73 241.63,282.83 241.75,280.20 C241.87,277.57 241.88,273.22 241.95,269.70 C242.02,266.18 242.10,261.75 242.15,259.10 C242.20,256.45 242.10,256.47 242.25,253.80 C242.40,251.13 242.92,244.88 243.05,243.10 Z" fill="#F9BBAD" stroke="#2e2e2e" stroke-width="0.65"/><line x1="243.05" y1="270.05" x2="243.05" y2="374.60" stroke="#1a1a1a" stroke-width="0.8"/><rect x="241.35" y="317.60" width="3.4" height="31.70" fill="#fff" stroke="#1a1a1a" stroke-width="0.75"/><line x1="241.35" y1="336.40" x2="244.75" y2="336.40" stroke="#111" stroke-width="1.1"/><path d="M276.45,240.00 C276.55,243.73 276.93,257.78 277.05,262.40 C277.17,267.02 276.98,265.93 277.15,267.70 C277.32,269.47 277.73,271.25 278.05,273.00 C278.37,274.75 278.70,276.45 279.05,278.20 C279.40,279.95 279.75,281.73 280.15,283.50 C280.55,285.27 281.02,287.03 281.45,288.80 C281.88,290.57 282.30,292.33 282.75,294.10 C283.20,295.87 283.70,297.65 284.15,299.40 C284.60,301.15 285.05,302.85 285.45,304.60 C285.85,306.35 286.20,308.13 286.55,309.90 C286.90,311.67 287.18,313.20 287.55,315.20 C287.92,317.20 288.67,319.78 288.75,321.90 C288.83,324.02 288.38,325.92 288.05,327.90 C287.72,329.88 287.20,331.83 286.75,333.80 C286.30,335.77 285.87,337.72 285.35,339.70 C284.83,341.68 284.20,343.72 283.65,345.70 C283.10,347.68 282.60,349.63 282.05,351.60 C281.50,353.57 280.85,355.52 280.35,357.50 C279.85,359.48 279.47,361.52 279.05,363.50 C278.63,365.48 278.18,367.43 277.85,369.40 C277.52,371.37 277.22,373.37 277.05,375.30 C276.88,377.23 276.95,379.05 276.85,381.00 C276.75,382.95 276.52,386.00 276.45,387.00 L276.45,387.00 C276.38,386.00 276.15,382.95 276.05,381.00 C275.95,379.05 276.02,377.23 275.85,375.30 C275.68,373.37 275.38,371.37 275.05,369.40 C274.72,367.43 274.27,365.48 273.85,363.50 C273.43,361.52 273.05,359.48 272.55,357.50 C272.05,355.52 271.40,353.57 270.85,351.60 C270.30,349.63 269.80,347.68 269.25,345.70 C268.70,343.72 268.07,341.68 267.55,339.70 C267.03,337.72 266.60,335.77 266.15,333.80 C265.70,331.83 265.18,329.88 264.85,327.90 C264.52,325.92 264.07,324.02 264.15,321.90 C264.23,319.78 264.98,317.20 265.35,315.20 C265.72,313.20 266.00,311.67 266.35,309.90 C266.70,308.13 267.05,306.35 267.45,304.60 C267.85,302.85 268.30,301.15 268.75,299.40 C269.20,297.65 269.70,295.87 270.15,294.10 C270.60,292.33 271.02,290.57 271.45,288.80 C271.88,287.03 272.35,285.27 272.75,283.50 C273.15,281.73 273.50,279.95 273.85,278.20 C274.20,276.45 274.53,274.75 274.85,273.00 C275.17,271.25 275.58,269.47 275.75,267.70 C275.92,265.93 275.73,267.02 275.85,262.40 C275.97,257.78 276.35,243.73 276.45,240.00 Z" fill="#C3E4F4" stroke="#2e2e2e" stroke-width="0.65"/><line x1="276.45" y1="385.00" x2="276.45" y2="404.40" stroke="#4a4a4a" stroke-width="1.0"/><line x1="276.45" y1="261.70" x2="276.45" y2="387.00" stroke="#1a1a1a" stroke-width="0.8"/><rect x="274.75" y="309.40" width="3.4" height="31.80" fill="#fff" stroke="#1a1a1a" stroke-width="0.75"/><line x1="274.75" y1="324.90" x2="278.15" y2="324.90" stroke="#111" stroke-width="1.1"/><path d="M309.45,251.00 C309.55,253.78 309.92,264.03 310.05,267.70 C310.18,271.37 310.07,271.25 310.25,273.00 C310.43,274.75 310.83,276.45 311.15,278.20 C311.47,279.95 311.77,281.73 312.15,283.50 C312.53,285.27 312.97,287.03 313.45,288.80 C313.93,290.57 314.48,292.33 315.05,294.10 C315.62,295.87 316.27,297.65 316.85,299.40 C317.43,301.15 318.02,302.85 318.55,304.60 C319.08,306.35 319.67,308.13 320.05,309.90 C320.43,311.67 320.48,313.20 320.85,315.20 C321.22,317.20 321.95,319.98 322.25,321.90 C322.55,323.82 322.95,324.72 322.65,326.70 C322.35,328.68 321.17,331.63 320.45,333.80 C319.73,335.97 319.03,337.72 318.35,339.70 C317.67,341.68 316.98,343.72 316.35,345.70 C315.72,347.68 315.08,349.63 314.55,351.60 C314.02,353.57 313.65,355.52 313.15,357.50 C312.65,359.48 312.00,361.52 311.55,363.50 C311.10,365.48 310.72,367.92 310.45,369.40 C310.18,370.88 310.12,371.87 309.95,372.40 C309.78,372.93 309.53,372.57 309.45,372.60 L309.45,372.60 C309.37,372.57 309.12,372.93 308.95,372.40 C308.78,371.87 308.72,370.88 308.45,369.40 C308.18,367.92 307.80,365.48 307.35,363.50 C306.90,361.52 306.25,359.48 305.75,357.50 C305.25,355.52 304.88,353.57 304.35,351.60 C303.82,349.63 303.18,347.68 302.55,345.70 C301.92,343.72 301.23,341.68 300.55,339.70 C299.87,337.72 299.17,335.97 298.45,333.80 C297.73,331.63 296.55,328.68 296.25,326.70 C295.95,324.72 296.35,323.82 296.65,321.90 C296.95,319.98 297.68,317.20 298.05,315.20 C298.42,313.20 298.47,311.67 298.85,309.90 C299.23,308.13 299.82,306.35 300.35,304.60 C300.88,302.85 301.47,301.15 302.05,299.40 C302.63,297.65 303.28,295.87 303.85,294.10 C304.42,292.33 304.97,290.57 305.45,288.80 C305.93,287.03 306.37,285.27 306.75,283.50 C307.13,281.73 307.43,279.95 307.75,278.20 C308.07,276.45 308.47,274.75 308.65,273.00 C308.83,271.25 308.72,271.37 308.85,267.70 C308.98,264.03 309.35,253.78 309.45,251.00 Z" fill="#F9BBAD" stroke="#2e2e2e" stroke-width="0.65"/><line x1="309.45" y1="267.35" x2="309.45" y2="372.60" stroke="#1a1a1a" stroke-width="0.8"/><rect x="307.75" y="310.40" width="3.4" height="28.70" fill="#fff" stroke="#1a1a1a" stroke-width="0.75"/><line x1="307.75" y1="325.10" x2="311.15" y2="325.10" stroke="#111" stroke-width="1.1"/><text x="54.80" y="279.90" font-size="7.80" text-anchor="end" fill="#222" stroke="#222" stroke-width="0.22">2</text><text x="54.80" y="329.80" font-size="7.80" text-anchor="end" fill="#222" stroke="#222" stroke-width="0.22">0</text><text x="54.80" y="379.70" font-size="7.80" text-anchor="end" fill="#222" stroke="#222" stroke-width="0.22">&#8722;2</text><text transform="translate(41.80,322.60) rotate(-90)" font-size="7.9" text-anchor="middle" fill="#000" stroke="#000" stroke-width="0.22">PAV&#8211;adjusted suPAR Measure</text><text transform="translate(81.00,419.00) rotate(-45)" font-size="8" text-anchor="end" fill="#222" stroke="#222" stroke-width="0.22">AFR</text><text transform="translate(114.20,419.00) rotate(-45)" font-size="8" text-anchor="end" fill="#222" stroke="#222" stroke-width="0.22">AFR</text><text transform="translate(147.40,419.00) rotate(-45)" font-size="8" text-anchor="end" fill="#222" stroke="#222" stroke-width="0.22">AMR</text><text transform="translate(180.60,419.00) rotate(-45)" font-size="8" text-anchor="end" fill="#222" stroke="#222" stroke-width="0.22">AMR</text><text transform="translate(213.80,419.00) rotate(-45)" font-size="8" text-anchor="end" fill="#222" stroke="#222" stroke-width="0.22">EAS</text><text transform="translate(247.00,419.00) rotate(-45)" font-size="8" text-anchor="end" fill="#222" stroke="#222" stroke-width="0.22">EAS</text><text transform="translate(280.20,419.00) rotate(-45)" font-size="8" text-anchor="end" fill="#222" stroke="#222" stroke-width="0.22">EUR</text><text transform="translate(313.40,419.00) rotate(-45)" font-size="8" text-anchor="end" fill="#222" stroke="#222" stroke-width="0.22">EUR</text><text x="193.70" y="439.70" font-size="7.90" text-anchor="middle" fill="#000" stroke="#000" stroke-width="0.22">Ancestry</text><text x="86.20" y="238.10" font-size="17.10" text-anchor="start" font-weight="bold" fill="#000" stroke="#000" stroke-width="0.35">With PAV Adjustment</text><text x="338.20" y="315.10" font-size="7.60" text-anchor="start" fill="#000" stroke="#000" stroke-width="0.22">Trait</text><rect x="338.4" y="319.10" width="8.2" height="8.4" fill="#C3E4F4" stroke="#333" stroke-width="0.6"/><rect x="338.4" y="327.70" width="8.2" height="8.4" fill="#F9BBAD" stroke="#333" stroke-width="0.6"/><text x="349.60" y="326.10" font-size="7.80" text-anchor="start" fill="#000" stroke="#000" stroke-width="0.22">Olink</text><text x="349.60" y="334.60" font-size="7.80" text-anchor="start" fill="#000" stroke="#000" stroke-width="0.22">SomaScan</text><text x="446.50" y="261.10" font-size="10.80" text-anchor="start" font-weight="bold" fill="#000" stroke="#000" stroke-width="0.2">Olink</text><line x1="484.45" y1="286.00" x2="484.45" y2="361.00" stroke="#111" stroke-width="1.17"/><rect x="460.95" y="314.75" width="47.00" height="18.40" fill="#C6E2EC" stroke="#111" stroke-width="1.30"/><line x1="460.95" y1="324.00" x2="507.95" y2="324.00" stroke="#000" stroke-width="2.40"/><circle cx="484.45" cy="272.90" r="2.40" fill="#1e1e1e" fill-opacity="0.88"/><circle cx="484.45" cy="278.30" r="2.40" fill="#1e1e1e" fill-opacity="0.88"/><circle cx="484.45" cy="279.80" r="2.40" fill="#1e1e1e" fill-opacity="0.88"/><circle cx="484.45" cy="281.30" r="2.40" fill="#1e1e1e" fill-opacity="0.88"/><circle cx="484.45" cy="282.80" r="2.40" fill="#1e1e1e" fill-opacity="0.88"/><circle cx="484.45" cy="284.30" r="2.40" fill="#1e1e1e" fill-opacity="0.88"/><circle cx="484.45" cy="363.30" r="2.40" fill="#1e1e1e" fill-opacity="0.88"/><circle cx="484.45" cy="364.80" r="2.40" fill="#1e1e1e" fill-opacity="0.88"/><circle cx="484.45" cy="366.30" r="2.40" fill="#1e1e1e" fill-opacity="0.88"/><circle cx="484.45" cy="367.80" r="2.40" fill="#1e1e1e" fill-opacity="0.88"/><circle cx="484.45" cy="368.40" r="2.40" fill="#1e1e1e" fill-opacity="0.88"/><circle cx="484.45" cy="374.00" r="2.40" fill="#1e1e1e" fill-opacity="0.88"/><line x1="548.35" y1="288.00" x2="548.35" y2="350.90" stroke="#111" stroke-width="1.17"/><rect x="524.65" y="307.85" width="47.40" height="17.20" fill="#C6E2EC" stroke="#111" stroke-width="1.30"/><line x1="524.65" y1="315.30" x2="572.05" y2="315.30" stroke="#000" stroke-width="2.30"/><line x1="611.65" y1="302.50" x2="611.65" y2="302.50" stroke="#111" stroke-width="1.17"/><rect x="588.05" y="298.35" width="47.20" height="8.10" fill="#C6E2EC" stroke="#111" stroke-width="1.30"/><line x1="588.05" y1="302.50" x2="635.25" y2="302.50" stroke="#000" stroke-width="2.10"/><circle cx="611.65" cy="281.90" r="2.20" fill="#1e1e1e" fill-opacity="0.88"/><circle cx="611.65" cy="320.70" r="2.20" fill="#1e1e1e" fill-opacity="0.88"/><path d="M446.3,267.8 L446.3,378.9 L650.3,378.9" fill="none" stroke="#444" stroke-width="1.1"/><text x="442.50" y="297.80" font-size="8.50" text-anchor="end" fill="#222" stroke="#222" stroke-width="0.22">2</text><text x="442.50" y="327.20" font-size="8.50" text-anchor="end" fill="#222" stroke="#222" stroke-width="0.22">0</text><text x="442.50" y="356.60" font-size="8.50" text-anchor="end" fill="#222" stroke="#222" stroke-width="0.22">&#8722;2</text><text x="484.50" y="389.60" font-size="8.60" text-anchor="middle" fill="#222" stroke="#222" stroke-width="0.22">T/T</text><text x="548.30" y="389.60" font-size="8.60" text-anchor="middle" fill="#222" stroke="#222" stroke-width="0.22">T/C</text><text x="611.50" y="389.60" font-size="8.60" text-anchor="middle" fill="#222" stroke="#222" stroke-width="0.22">C/C</text><text x="548.00" y="401.10" font-size="9.90" text-anchor="middle" fill="#000" stroke="#000" stroke-width="0.22">Genotype</text><text transform="translate(428.5,323.2) rotate(-90)" font-size="10" text-anchor="middle" stroke="#000" stroke-width="0.18">Protein Measurements</text><text x="2.00" y="459.90" font-size="25.50" text-anchor="start" fill="#000" stroke="#000" stroke-width="0.12">D</text><rect x="41.20" y="448.80" width="627.40" height="146.60" fill="none" stroke="#000" stroke-width="2"/><line x1="41.20" y1="476" x2="668.60" y2="476" stroke="#000" stroke-width="2"/><line x1="41.20" y1="509.9" x2="670.3" y2="509.9" stroke="#000" stroke-width="2"/><line x1="41.20" y1="553.5" x2="356.4" y2="553.5" stroke="#000" stroke-width="2"/><line x1="356.4" y1="476" x2="356.4" y2="595.40" stroke="#000" stroke-width="2"/><text x="193.40" y="469.70" font-size="17.00" text-anchor="middle" font-weight="bold" fill="#000" stroke="#000" stroke-width="0.30">PAV Summary Statistics</text><text x="512.60" y="469.70" font-size="17.00" text-anchor="middle" font-weight="bold" fill="#000" stroke="#000" stroke-width="0.30">EAF</text><text x="83.30" y="500.50" font-size="17.00" text-anchor="middle" font-weight="bold" fill="#000" stroke="#000" stroke-width="0.30">Platform</text><text x="165.50" y="500.50" font-size="17.00" text-anchor="middle" font-weight="bold" fill="#000" stroke="#000" stroke-width="0.30">B</text><text x="231.20" y="500.50" font-size="17.00" text-anchor="middle" font-weight="bold" fill="#000" stroke="#000" stroke-width="0.30">SE</text><text x="318.40" y="500.50" font-size="17.00" text-anchor="middle" font-weight="bold" fill="#000" stroke="#000" stroke-width="0.30">P-Value</text><text x="385.50" y="500.50" font-size="17.00" text-anchor="middle" font-weight="bold" fill="#000" stroke="#000" stroke-width="0.30">AFR</text><text x="447.90" y="500.50" font-size="17.00" text-anchor="middle" font-weight="bold" fill="#000" stroke="#000" stroke-width="0.30">AMR</text><text x="508.60" y="500.50" font-size="17.00" text-anchor="middle" font-weight="bold" fill="#000" stroke="#000" stroke-width="0.30">EAS</text><text x="569.70" y="500.50" font-size="17.00" text-anchor="middle" font-weight="bold" fill="#000" stroke="#000" stroke-width="0.30">EUR</text><text x="635.70" y="500.50" font-size="17.00" text-anchor="middle" font-weight="bold" fill="#000" stroke="#000" stroke-width="0.30">ALL</text><text x="50.10" y="538.40" font-size="18.50" text-anchor="start" fill="#000" stroke="#000" stroke-width="0.12">Soma</text><text x="50.10" y="582.00" font-size="18.50" text-anchor="start" fill="#000" stroke="#000" stroke-width="0.12">Olink</text><text x="171.30" y="538.80" font-size="19.00" text-anchor="middle" fill="#000" stroke="#000" stroke-width="0.12">-2.09</text><text x="225.70" y="538.80" font-size="19.00" text-anchor="middle" fill="#000" stroke="#000" stroke-width="0.12">0.02</text><text x="296.20" y="538.80" font-size="19.00" text-anchor="middle" fill="#000" stroke="#000" stroke-width="0.12">2x10</text><text x="334.30" y="532.40" font-size="13.00" text-anchor="middle" fill="#000" stroke="#000" stroke-width="0.12">-155</text><text x="164.20" y="582.00" font-size="19.00" text-anchor="middle" fill="#000" stroke="#000" stroke-width="0.12">0.61</text><text x="225.70" y="582.00" font-size="19.00" text-anchor="middle" fill="#000" stroke="#000" stroke-width="0.12">0.02</text><text x="298.70" y="582.00" font-size="19.00" text-anchor="middle" fill="#000" stroke="#000" stroke-width="0.12">3x10</text><text x="334.30" y="575.60" font-size="13.00" text-anchor="middle" fill="#000" stroke="#000" stroke-width="0.12">-17</text><text x="385.20" y="561.20" font-size="19.00" text-anchor="middle" fill="#000" stroke="#000" stroke-width="0.12">0.10</text><text x="447.20" y="561.20" font-size="19.00" text-anchor="middle" fill="#000" stroke="#000" stroke-width="0.12">0.01</text><text x="508.20" y="561.20" font-size="19.00" text-anchor="middle" fill="#000" stroke="#000" stroke-width="0.12">0.00</text><text x="569.50" y="561.20" font-size="19.00" text-anchor="middle" fill="#000" stroke="#000" stroke-width="0.12">0.00</text><text x="630.60" y="561.20" font-size="19.00" text-anchor="middle" fill="#000" stroke="#000" stroke-width="0.12">0.03</text><text x="2.00" y="633.90" font-size="25.50" text-anchor="start" fill="#000" stroke="#000" stroke-width="0.12">E</text><rect x="40.20" y="612.60" width="629.30" height="144.00" fill="none" stroke="#000" stroke-width="2"/><line x1="40.20" y1="707.5" x2="669.50" y2="707.5" stroke="#000" stroke-width="2"/><text x="452.40" y="644.40" font-size="19.00" text-anchor="middle" font-weight="bold" fill="#000" stroke="#000" stroke-width="0.30">Pearson’s r of suPAR Measures</text><text x="296.20" y="691.10" font-size="18.50" text-anchor="middle" font-weight="bold" fill="#000" stroke="#000" stroke-width="0.30">AFR</text><text x="397.00" y="691.10" font-size="18.50" text-anchor="middle" font-weight="bold" fill="#000" stroke="#000" stroke-width="0.30">AMR</text><text x="479.50" y="691.10" font-size="18.50" text-anchor="middle" font-weight="bold" fill="#000" stroke="#000" stroke-width="0.30">EAS</text><text x="553.80" y="691.10" font-size="18.50" text-anchor="middle" font-weight="bold" fill="#000" stroke="#000" stroke-width="0.30">EUR</text><text x="619.80" y="691.10" font-size="18.50" text-anchor="middle" font-weight="bold" fill="#000" stroke="#000" stroke-width="0.30">ALL</text><text x="46.00" y="728.50" font-size="19.20" text-anchor="start" fill="#000" stroke="#000" stroke-width="0.12">Without PAV Adjustment</text><text x="46.00" y="750.40" font-size="19.20" text-anchor="start" fill="#000" stroke="#000" stroke-width="0.12">With PAV Adjustment</text><text x="296.50" y="726.40" font-size="18.30" text-anchor="middle" fill="#000" stroke="#000" stroke-width="0.12">0.24</text><text x="396.70" y="726.40" font-size="18.30" text-anchor="middle" fill="#000" stroke="#000" stroke-width="0.12">0.60</text><text x="479.40" y="726.40" font-size="18.30" text-anchor="middle" fill="#000" stroke="#000" stroke-width="0.12">0.64</text><text x="546.30" y="726.40" font-size="18.30" text-anchor="middle" fill="#000" stroke="#000" stroke-width="0.12">0.48</text><text x="619.80" y="726.40" font-size="18.30" text-anchor="middle" fill="#000" stroke="#000" stroke-width="0.12">0.44</text><text x="296.50" y="753.00" font-size="18.30" text-anchor="middle" fill="#000" stroke="#000" stroke-width="0.12">0.59</text><text x="396.70" y="753.00" font-size="18.30" text-anchor="middle" fill="#000" stroke="#000" stroke-width="0.12">0.65</text><text x="479.40" y="752.80" font-size="18.30" text-anchor="middle" fill="#000" stroke="#000" stroke-width="0.12">0.64</text><text x="546.10" y="753.00" font-size="18.30" text-anchor="middle" fill="#000" stroke="#000" stroke-width="0.12">0.51</text><text x="619.80" y="749.70" font-size="18.30" text-anchor="middle" fill="#000" stroke="#000" stroke-width="0.12">0.57</text>
</svg>
</body></html>
